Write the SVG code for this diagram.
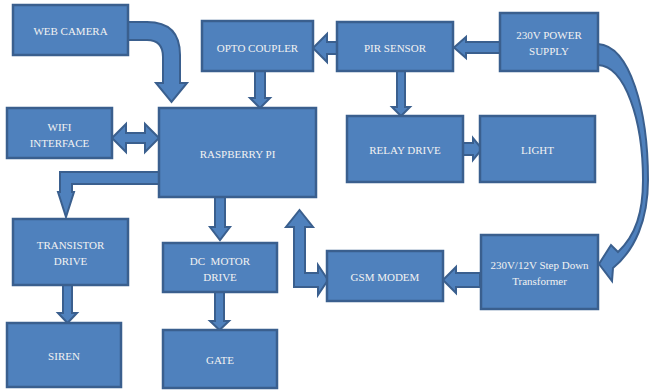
<svg xmlns="http://www.w3.org/2000/svg" width="649" height="392" viewBox="0 0 649 392">
<style>
.box{fill:#4F81BD;stroke:#3A5F8E;stroke-width:2.5}
.arr{fill:#4F81BD;stroke:#3A5F8E;stroke-width:2;stroke-linejoin:miter}
text{font-family:"Liberation Serif","Times New Roman",serif;font-size:11px;fill:#F2F2F2;text-anchor:middle}
</style>
<rect width="649" height="392" fill="#FFFFFF"/>
<g id="connectors">
<path class="arr" d="M128,22 L147,22 Q180,22 180,55 L180,83 L187,83 L171.5,102 L156,83 L163,83 L163,57 Q163,40 147,40 L128,40 Z"/>
<path class="arr" d="M255,71 L265,71 L265,98 L270,98 L260,108 L250,98 L255,98 Z"/>
<path class="arr" d="M337,42 L327,42 L327,34 L313,48 L327,62 L327,54 L337,54 Z"/>
<path class="arr" d="M500,42 L466,42 L466,37 L454,47.5 L466,58 L466,53 L500,53 Z"/>
<path class="arr" d="M397,71 L405,71 L405,107 L410,107 L401,116 L392,107 L397,107 Z"/>
<path class="arr" d="M463,143 L473,143 L473,138 L482,149 L473,160 L473,155 L463,155 Z"/>
<path class="arr" d="M112,138 L126,124 L126,133 L145,133 L145,124 L159,138 L145,152 L145,143 L126,143 L126,152 Z"/>
<path class="arr" d="M159,172 L60,172 L60,192 L58,192 L66,217 L74,192 L72,192 L72,184 L159,184 Z"/>
<path class="arr" d="M215,197 L225,197 L225,227 L230,227 L220,240 L210,227 L215,227 Z"/>
<path class="arr" d="M63,285 L72,285 L72,313 L77,313 L67.5,323 L58,313 L63,313 Z"/>
<path class="arr" d="M215,292 L224,292 L224,321 L229,321 L219.5,330 L210,321 L215,321 Z"/>
<path class="arr" d="M294,287 L294,227 L286,227 L299.5,210 L313,227 L305,227 L305,273 L318,273 L318,265 L328,280 L318,295 L318,287 Z"/>
<path class="arr" d="M480,273 L456,273 L456,267 L443,280 L456,293 L456,287 L480,287 Z"/>
<path class="arr" d="M598,44 C630,46 648,110 648,180 C648,220 635,250 613,268 L612,281 L599,264 L611,245 L618,252 C636,235 643,212 643,180 C643,120 625,66 598,65 Z"/>
</g>
<g id="web-camera"><rect class="box" x="13" y="5" width="115" height="50"/><text x="70.5" y="35">WEB CAMERA</text></g>
<g id="opto-coupler"><rect class="box" x="202" y="21" width="111" height="50"/><text x="257.5" y="52">OPTO COUPLER</text></g>
<g id="pir-sensor"><rect class="box" x="337" y="22" width="116" height="49"/><text x="395" y="52">PIR SENSOR</text></g>
<g id="power-supply"><rect class="box" x="500" y="13" width="98" height="58"/><text x="549" y="39">230V POWER</text><text x="549" y="55">SUPPLY</text></g>
<g id="wifi-interface"><rect class="box" x="7" y="108" width="105" height="50"/><text x="59.5" y="131">WIFI</text><text x="59.5" y="147">INTERFACE</text></g>
<g id="raspberry-pi"><rect class="box" x="159" y="108" width="157" height="89"/><text x="237.5" y="158">RASPBERRY PI</text></g>
<g id="relay-drive"><rect class="box" x="347" y="116" width="116" height="66"/><text x="405" y="154">RELAY DRIVE</text></g>
<g id="light"><rect class="box" x="480" y="116" width="115" height="66"/><text x="537.5" y="154">LIGHT</text></g>
<g id="transistor-drive"><rect class="box" x="13" y="219" width="115" height="66"/><text x="70.5" y="249">TRANSISTOR</text><text x="70.5" y="265">DRIVE</text></g>
<g id="siren"><rect class="box" x="7" y="323" width="114" height="64"/><text x="64" y="360">SIREN</text></g>
<g id="dc-motor-drive"><rect class="box" x="163" y="243" width="114" height="49"/><text x="220" y="265" xml:space="preserve">DC  MOTOR</text><text x="220" y="281">DRIVE</text></g>
<g id="gate"><rect class="box" x="163" y="330" width="114" height="58"/><text x="220" y="364">GATE</text></g>
<g id="gsm-modem"><rect class="box" x="327" y="251" width="116" height="50"/><text x="385" y="281">GSM MODEM</text></g>
<g id="transformer"><rect class="box" x="481" y="235" width="117" height="74"/><text x="539.5" y="269">230V/12V Step Down</text><text x="539.5" y="285">Transformer</text></g>
</svg>
